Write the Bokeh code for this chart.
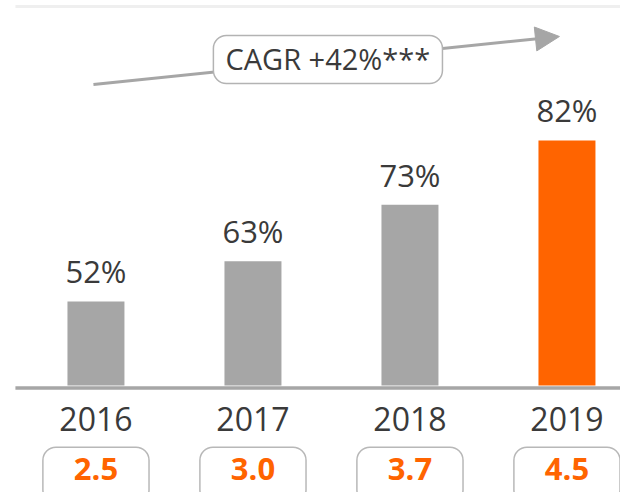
from bokeh.plotting import figure
from bokeh.models import Range1d, Arrow, NormalHead, ColumnDataSource
from bokeh.embed import file_html
from bokeh.resources import INLINE
from bokeh.core.properties import value

# ---- data ----
years = ["2016", "2017", "2018", "2019"]
share_labels = ["52%", "63%", "73%", "82%"]
amounts = [2.5, 3.0, 3.7, 4.5]
amount_labels = ["2.5", "3.0", "3.7", "4.5"]
cagr_label = "CAGR +42%***"

# ---- styling / layout ----
GRAY = "#a6a6a6"
ORANGE = "#ff6400"
TEXT = "#3a3a3a"
FONT = value("Open Sans")
bar_colors = [GRAY, GRAY, GRAY, ORANGE]
idx = list(range(len(years)))

BASE = 1.455          # value-axis start (bars grow from here)
YEAR_Y = 1.045
BOX_TOP, BOX_BOTTOM, BOX_TEXT_Y = 0.689, 0.0, 0.425
BOX_HALF = 0.338
BAR_W = 0.363

src = ColumnDataSource(dict(
    x=idx, years=years, shares=share_labels, amounts=amounts,
    alabels=amount_labels, colors=bar_colors,
    bl=[i - BOX_HALF for i in idx], br=[i + BOX_HALF for i in idx],
    bt=[BOX_TOP] * 4, bb=[BOX_BOTTOM] * 4,
    yy=[YEAR_Y] * 4, by=[BOX_TEXT_Y] * 4,
))

p = figure(width=620, height=492, output_backend="svg", toolbar_location=None,
           x_range=Range1d(-0.608, 3.341), y_range=Range1d(0.127, 6.238),
           min_border=0, background_fill_color="white", border_fill_color="white")
p.axis.visible = False
p.grid.visible = False
p.outline_line_color = None

# top light rule
p.segment(x0=[-0.513], x1=[3.5], y0=[6.164], y1=[6.164], line_color="#efefef", line_width=3)

# bars
p.vbar(x="x", top="amounts", bottom=BASE, width=BAR_W, fill_color="colors",
       line_color=None, source=src)
p.segment(x0=[-0.513], x1=[3.5], y0=[BASE - 0.03], y1=[BASE - 0.03], line_color=GRAY, line_width=3.5)

# percent labels above bars
p.text(x="x", y="amounts", text="shares", source=src, text_align="center",
       text_baseline="middle", y_offset=-30, text_font=FONT,
       text_font_size="31px", text_color=TEXT)

# year labels
p.text(x="x", y="yy", text="years", source=src, text_align="center",
       text_baseline="middle", text_font=FONT, text_font_size="32px",
       text_color=TEXT)

# value boxes
p.quad(left="bl", right="br", top="bt", bottom="bb", source=src,
       fill_color="white", line_color="#b8b8b8", line_width=1.5, border_radius=13)
p.text(x="x", y="by", text="alabels", source=src, text_align="center",
       text_baseline="middle", text_font=FONT, text_font_size="31px",
       text_font_style="bold", text_color=ORANGE)

# CAGR arrow
arrow = Arrow(x_start=-0.016, y_start=5.195, x_end=2.952, y_end=5.791,
              line_color=GRAY, line_width=3,
              end=NormalHead(size=24, fill_color=GRAY, line_color=GRAY))
arrow.level = "underlay"
p.add_layout(arrow)

p.quad(left=[0.748], right=[2.207], top=[5.804], bottom=[5.207],
       fill_color="white", line_color="#b3b3b3", line_width=1.5, border_radius=13)
p.text(x=[1.477], y=[5.52], text=[cagr_label], text_align="center",
       text_baseline="middle", text_font=FONT, text_font_size="29px",
       text_color=TEXT)

open("out.html", "w").write(file_html(p, INLINE))
